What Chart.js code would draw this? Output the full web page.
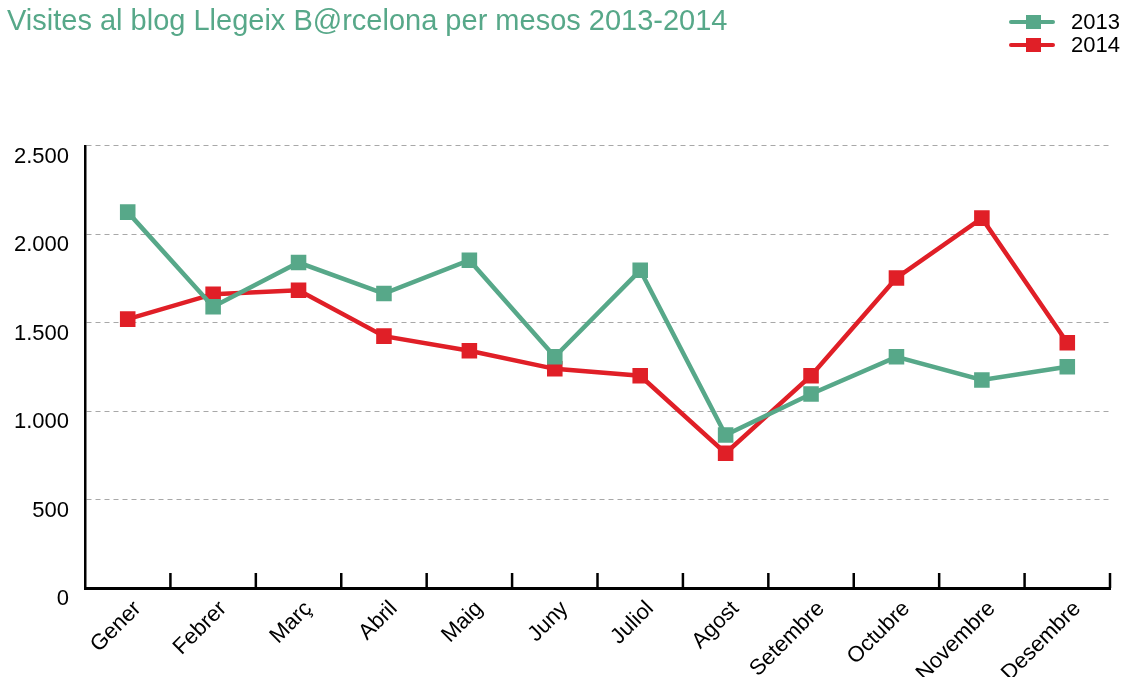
<!DOCTYPE html>
<html>
<head>
<meta charset="utf-8">
<script src="https://cdn.jsdelivr.net/npm/chart.js@4/dist/chart.umd.min.js"></script>
<style>
  html, body { margin: 0; padding: 0; background: #fff; }
  #wrap { width: 1125px; height: 677px; position: relative; }
</style>
</head>
<body>
<div id="wrap"><canvas id="visitsChart"></canvas></div>
<script>
const chartTitle = "Visites al blog Llegeix B@rcelona per mesos 2013-2014";
const months = ["Gener","Febrer","Març","Abril","Maig","Juny","Juliol","Agost","Setembre","Octubre","Novembre","Desembre"];
const visits2013 = [2125,1590,1840,1665,1853,1307,1796,865,1097,1307,1176,1251];
const visits2014 = [1520,1661,1683,1424,1341,1239,1200,762,1200,1753,2091,1386];
const seriesNames = ["2013","2014"];
const yMax = 2500;
const yStep = 500;

const GREEN = "#57a889";
const RED = "#e01f27";
const FONT = "'Liberation Sans', Arial, Helvetica, sans-serif";

// legend on the right, one row per series
const sideLegend = {
  id: "sideLegend",
  afterDraw(chart){
    const ctx = chart.ctx;
    ctx.save();
    chart.data.datasets.forEach((ds,i)=>{
      const y = 22 + i*23;
      ctx.strokeStyle = ds.borderColor;
      ctx.lineWidth = 4;
      ctx.lineCap = "round";
      ctx.beginPath();
      ctx.moveTo(1011,y);
      ctx.lineTo(1053,y);
      ctx.stroke();
      ctx.fillStyle = ds.borderColor;
      ctx.fillRect(1026,y-7,15,14);
      ctx.fillStyle = "#000";
      ctx.font = "22px " + FONT;
      ctx.textBaseline = "middle";
      ctx.textAlign = "left";
      ctx.fillText(ds.label,1071,y+1);
    });
    ctx.restore();
  }
};

// short tick marks between months, pointing up into the plot
const innerTicks = {
  id: "innerTicks",
  afterDraw(chart){
    const x = chart.scales.x;
    const bottom = chart.chartArea.bottom;
    const ctx = chart.ctx;
    ctx.save();
    ctx.strokeStyle = "#000";
    ctx.lineWidth = 2.5;
    for(let i=0;i<months.length;i++){
      const px = x.getPixelForValue(i + 0.5);
      ctx.beginPath();
      ctx.moveTo(px,bottom);
      ctx.lineTo(px,bottom-15);
      ctx.stroke();
    }
    ctx.restore();
  }
};

new Chart(document.getElementById("visitsChart"),{
  type: "line",
  data: {
    labels: months,
    datasets: [
      {label: seriesNames[0], data: visits2013, borderColor: GREEN, backgroundColor: GREEN},
      {label: seriesNames[1], data: visits2014, borderColor: RED, backgroundColor: RED}
    ]
  },
  options: {
    responsive: true,
    maintainAspectRatio: false,
    animation: false,
    layout: {padding: {left: 7, right: 15, top: 0, bottom: 0}},
    elements: {
      line: {borderWidth: 4.5, tension: 0},
      point: {pointStyle: "rect", radius: 11, borderWidth: 0, hoverRadius: 11}
    },
    plugins: {
      legend: {display: false},
      tooltip: {enabled: false},
      title: {
        display: true,
        text: chartTitle,
        align: "start",
        color: GREEN,
        font: {family: FONT, size: 29, weight: "normal"},
        padding: {top: 5, bottom: 106}
      }
    },
    scales: {
      x: {
        offset: true,
        grid: {display: false},
        border: {display: true, color: "#000", width: 3},
        ticks: {
          autoSkip: false,
          maxRotation: 45,
          minRotation: 45,
          labelOffset: 10,
          padding: 0,
          color: "#000",
          font: {family: FONT, size: 22}
        },
        afterFit(scale){ scale.height = 89; }
      },
      y: {
        min: 0,
        max: yMax,
        grid: {color: "#a8a8a8", lineWidth: 1, drawTicks: false},
        border: {display: true, color: "#000", width: 2.5, dash: [5,4]},
        ticks: {
          stepSize: yStep,
          padding: 16,
          labelOffset: 11,
          color: "#000",
          font: {family: FONT, size: 22},
          callback: v => String(v).replace(/\B(?=(\d{3})+(?!\d))/g, ".")
        },
        afterFit(scale){ scale.width = 78; }
      }
    }
  },
  plugins: [sideLegend, innerTicks]
});
</script>
</body>
</html>
